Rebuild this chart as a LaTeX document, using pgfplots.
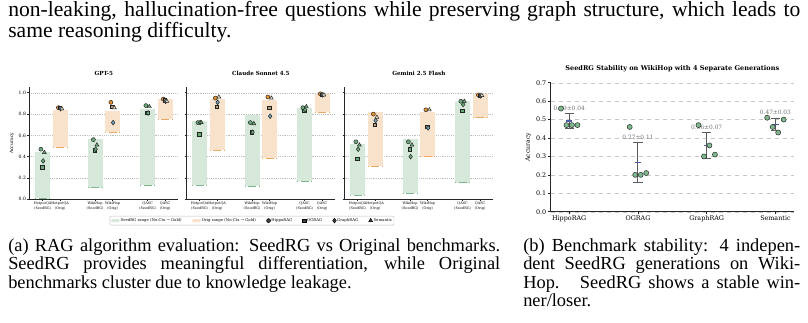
\documentclass[border=0pt]{standalone}
\usepackage{fontspec}
\setmainfont{Liberation Serif}
\newfontfamily\chart{DejaVu Serif}
\usepackage{pgfplots}
\pgfplotsset{compat=1.18}
\usepackage{pgfplotstable}

\definecolor{gfill}{HTML}{D6E8DA}
\definecolor{gline}{HTML}{7FB58A}
\definecolor{ofill}{HTML}{F8E2CB}
\definecolor{oline}{HTML}{E8A860}
\definecolor{seedc}{HTML}{6AAA78}
\definecolor{hipc}{HTML}{E8902A}
\definecolor{ogc}{HTML}{B8A07A}
\definecolor{grc}{HTML}{6F9FB5}
\definecolor{sec}{HTML}{E6D8BE}
\definecolor{mk}{HTML}{222222}
\definecolor{ptc}{HTML}{7DB98C}
\definecolor{ebc}{HTML}{5A5A5A}
\definecolor{meanc}{HTML}{4A5AA8}

% ---------- data (a) ----------
\pgfplotstableread{
x lo hi hip og gr se
0 0.01 0.44 0.47 0.30 0.36 0.44
3 0.11 0.57 0.56 0.46 0.47 0.51
6 0.135 0.85 0.88 0.81 0.81 0.87
}\gptS
\pgfplotstableread{
x lo hi hip og gr se
1 0.49 0.84 0.86 0.86 0.85 0.85
4 0.63 0.83 0.91 0.87 0.72 0.86
7 0.75 0.94 0.94 0.93 0.92 0.92
}\gptO
\pgfplotstableread{
x lo hi hip og gr se
0 0.134 0.734 0.72 0.61 0.72 0.72
3 0.125 0.79 0.72 0.63 0.63 0.71
6 0.17 0.86 0.86 0.83 0.84 0.87
}\claS
\pgfplotstableread{
x lo hi hip og gr se
1 0.46 0.94 0.95 0.87 0.91 0.96
4 0.385 0.93 0.96 0.86 0.78 0.95
7 0.82 0.99 0.99 0.98 0.98 0.98
}\claO
\pgfplotstableread{
x lo hi hip og gr se
0 0.04 0.52 0.54 0.38 0.47 0.51
3 0.056 0.57 0.54 0.47 0.40 0.51
6 0.156 0.925 0.92 0.83 0.89 0.92
}\gemS
\pgfplotstableread{
x lo hi hip og gr se
1 0.31 0.815 0.80 0.70 0.74 0.77
4 0.40 0.815 0.84 0.68 0.67 0.84
7 0.765 0.99 0.98 0.97 0.97 0.975
}\gemO
% ---------- data (b) ----------
\pgfplotstableread{
x v1 v2 v3 v4 mean std lab
0 0.56 0.47 0.47 0.47 0.4925 0.042 0.49±0.04
1 0.46 0.20 0.20 0.21 0.2675 0.108 0.27±0.11
2 0.47 0.30 0.36 0.31 0.36 0.07 0.36±0.07
3 0.51 0.46 0.43 0.50 0.475 0.033 0.47±0.03
}\stab

\newcommand{\ranges}[3]{% table, fill, line
  \addplot[forget plot, draw=none, mark=none, error bars/.cd, y dir=minus, y explicit, error mark=none,
    error bar style={line width=11.25pt, draw=#2, solid}]
    table[x=x, y=hi, y error expr=\thisrow{hi}-\thisrow{lo}] {#1};
  \addplot[forget plot, draw=none, mark=none, error bars/.cd, x dir=both, x fixed=0.43, error mark=none,
    error bar style={densely dashed, line width=0.45pt, draw=#3}]
    table[x=x, y=lo] {#1};
}
\newcommand{\pts}[5]{% table, hip, og, gr, se colours
  \addplot[forget plot, only marks, mark=*, mark size=1.5pt, mark options={fill=#2, draw=mk, line width=0.35pt}]
    table[x expr=\thisrow{x}-0.1, y=hip] {#1};
  \addplot[forget plot, only marks, mark=square*, mark size=1.3pt, mark options={fill=#3, draw=mk, line width=0.35pt}]
    table[x expr=\thisrow{x}-0.03, y=og] {#1};
  \addplot[forget plot, only marks, mark=diamond*, mark size=1.8pt, mark options={fill=#4, draw=mk, line width=0.35pt}]
    table[x expr=\thisrow{x}+0.03, y=gr] {#1};
  \addplot[forget plot, only marks, mark=triangle*, mark size=1.7pt, mark options={fill=#5, draw=mk, line width=0.35pt}]
    table[x expr=\thisrow{x}+0.1, y=se] {#1};
}
\newcommand{\panelall}[2]{%
  \ranges{#1}{gfill}{gline}
  \ranges{#2}{ofill}{oline}
  \pts{#1}{seedc}{seedc}{seedc}{seedc}
  \pts{#2}{hipc}{ogc}{grc}{sec}
}

\pgfplotsset{
  legpatch/.style={legend image code/.code={\fill[##1] (0pt,-1.1pt) rectangle (6.5pt,1.1pt);}},
  legmark/.style={legend image code/.code={\draw[##1] plot coordinates {(1.6pt,0pt)};}},
  panela/.style={
    scale only axis, width=111.56pt, height=83.9pt,
    xmin=-0.75, xmax=7.75, ymin=0, ymax=1.05,
    axis lines=left, axis line style={-, line width=0.5pt, black!85},
    tick align=outside, major tick length=1.5pt, tick style={line width=0.4pt, black!85},
    xtick={0,1,3,4,6,7},
    xticklabels={{HotpotQA\\(SeedRG)},{HotpotQA\\(Orig)},{WikiHop\\(SeedRG)},{WikiHop\\(Orig)},{QASC\\(SeedRG)},{QASC\\(Orig)}},
    xticklabel style={align=center, font=\chart\fontsize{2.6}{3.4}\selectfont, inner sep=0.6pt},
    ytick={0,0.2,...,1.0},
    yticklabel style={font=\chart\fontsize{3.4}{4}\selectfont, inner sep=1pt,
      /pgf/number format/.cd, fixed, fixed zerofill, precision=1, assume math mode=true},
    ymajorgrids, major grid style={densely dotted, black!25, line width=0.3pt},
    title style={font=\chart\bfseries\fontsize{4.2}{5}\selectfont, at={(0.5,1)}, anchor=base, yshift=2.6pt},
    clip=false,
  }
}

\begin{document}
\begin{tikzpicture}
\begin{scope}[x=0.75pt, y=-0.75pt]
\path[use as bounding box] (0,0) rectangle (808,323);
\node[anchor=base west, inner sep=0] at (8,16.5) {\fontsize{16.2}{19}\selectfont\makebox[594pt][s]{non-leaking, hallucination-free questions while preserving graph structure, which leads to}};
\node[anchor=base west, inner sep=0] at (8,38) {\fontsize{16.2}{19}\selectfont same reasoning difficulty.};
\node[anchor=base west, inner sep=0] at (8,251.5) {\fontsize{13.8}{16}\selectfont\makebox[369pt][s]{(a) RAG algorithm evaluation: SeedRG vs Original benchmarks.}};
\node[anchor=base west, inner sep=0] at (8,270) {\fontsize{13.8}{16}\selectfont\makebox[369pt][s]{SeedRG provides meaningful differentiation, while Original}};
\node[anchor=base west, inner sep=0] at (8,288.5) {\fontsize{13.8}{16}\selectfont benchmarks cluster due to knowledge leakage.};
\node[anchor=base west, inner sep=0] at (523,251.5) {\fontsize{13.8}{16}\selectfont\makebox[207.75pt][s]{(b) Benchmark stability: 4 indepen-}};
\node[anchor=base west, inner sep=0] at (523,270) {\fontsize{13.8}{16}\selectfont\makebox[207.75pt][s]{dent SeedRG generations on Wiki-}};
\node[anchor=base west, inner sep=0] at (523,288.5) {\fontsize{13.8}{16}\selectfont\makebox[207.75pt][s]{Hop. \ SeedRG shows a stable win-}};
\node[anchor=base west, inner sep=0] at (523,307) {\fontsize{13.8}{16}\selectfont ner/loser.};
\end{scope}

% ---------- GPT-5 ----------
\begin{axis}[panela, at={(22.125pt,-149.475pt)}, anchor=south west, title={GPT-5},
  ylabel={Accuracy},
  every axis y label/.style={at={(axis description cs:-0.118,0.5)}, rotate=90, anchor=center, font=\chart\fontsize{3.4}{4}\selectfont}]
\panelall{\gptS}{\gptO}
\end{axis}
% ---------- Claude ----------
\begin{axis}[panela, at={(139.875pt,-149.475pt)}, anchor=south west, title={Claude Sonnet 4.5},
  yticklabels={},
  legend style={at={(0.44,-0.149)}, anchor=north, legend columns=6, draw=black!25, line width=0.3pt,
    rounded corners=0.8pt, font=\chart\fontsize{2.9}{3.4}\selectfont, inner sep=0.8pt,
    nodes={inner sep=0.7pt}, /tikz/every even column/.append style={column sep=7.2pt}},
  legend cell align=left]
\panelall{\claS}{\claO}
\addlegendimage{legpatch, fill=gfill, draw=none}
\addlegendentry{SeedRG range (No-Ctx → Gold)}
\addlegendimage{legpatch, fill=ofill, draw=none}
\addlegendentry{Orig range (No-Ctx → Gold)}
\addlegendimage{only marks, mark=*, mark size=1.5pt, mark options={fill=black!75, draw=black, line width=0.35pt}, legmark}
\addlegendentry{HippoRAG}
\addlegendimage{only marks, mark=square*, mark size=1.3pt, mark options={fill=black!75, draw=black, line width=0.35pt}, legmark}
\addlegendentry{OGRAG}
\addlegendimage{only marks, mark=diamond*, mark size=1.8pt, mark options={fill=black!75, draw=black, line width=0.35pt}, legmark}
\addlegendentry{GraphRAG}
\addlegendimage{only marks, mark=triangle*, mark size=1.7pt, mark options={fill=black!75, draw=black, line width=0.35pt}, legmark}
\addlegendentry{Semantic}
\end{axis}
% ---------- Gemini ----------
\begin{axis}[panela, at={(258.375pt,-149.475pt)}, anchor=south west, title={Gemini 2.5 Flash},
  yticklabels={}]
\panelall{\gemS}{\gemO}
\end{axis}

% ---------- (b) ----------
\begin{axis}[scale only axis, width=182.5pt, height=96.75pt, at={(413pt,-158.8pt)}, anchor=south west,
  xmin=-0.27, xmax=3.27, ymin=0, ymax=0.7,
  axis lines=left, axis line style={-, line width=0.6pt, black!85},
  tick align=outside, major tick length=1.9pt, tick style={line width=0.45pt, black!85},
  xtick={0,1,2,3}, xticklabels={HippoRAG,OGRAG,GraphRAG,Semantic},
  xticklabel style={font=\chart\fontsize{4.8}{5.5}\selectfont, inner sep=1.2pt},
  ytick={0,0.1,...,0.7},
  yticklabel style={font=\chart\fontsize{4.8}{5.5}\selectfont, inner sep=1.2pt,
    /pgf/number format/.cd, fixed, fixed zerofill, precision=1, assume math mode=true},
  ymajorgrids, major grid style={dashed, black!22, line width=0.3pt},
  title={SeedRG Stability on WikiHop with 4 Separate Generations},
  title style={font=\chart\bfseries\fontsize{4.9}{5.5}\selectfont, at={(0.5,1)}, anchor=base, yshift=3.3pt},
  ylabel={Accuracy},
  every axis y label/.style={at={(axis description cs:-0.092,0.5)}, rotate=90, anchor=center, font=\chart\fontsize{4.6}{5}\selectfont},
  clip=false]
\addplot[forget plot, draw=none, mark=none, nodes near coords, point meta=explicit symbolic,
  nodes near coords style={font=\chart\fontsize{4.4}{5}\selectfont, text=black!55, anchor=south, inner sep=0.5pt, yshift=1.6pt}]
  table[x=x, y expr=\thisrow{mean}+\thisrow{std}, meta=lab] {\stab};
\addplot[forget plot, draw=none, mark=none, error bars/.cd, y dir=both, y explicit,
  error bar style={line width=0.75pt, draw=ebc, solid},
  error mark options={rotate=90, mark size=3.5pt, line width=0.75pt, draw=ebc}]
  table[x=x, y=mean, y error=std] {\stab};
\addplot[forget plot, only marks, mark=-, mark size=2.4pt, mark options={draw=meanc, line width=0.9pt}]
  table[x=x, y=mean] {\stab};
\addplot[forget plot, only marks, mark=*, mark size=1.9pt, mark options={fill=ptc, draw=black!80, line width=0.4pt}]
  table[x expr=\thisrow{x}-0.12, y=v1] {\stab};
\addplot[forget plot, only marks, mark=*, mark size=1.9pt, mark options={fill=ptc, draw=black!80, line width=0.4pt}]
  table[x expr=\thisrow{x}-0.04, y=v2] {\stab};
\addplot[forget plot, only marks, mark=*, mark size=1.9pt, mark options={fill=ptc, draw=black!80, line width=0.4pt}]
  table[x expr=\thisrow{x}+0.04, y=v3] {\stab};
\addplot[forget plot, only marks, mark=*, mark size=1.9pt, mark options={fill=ptc, draw=black!80, line width=0.4pt}]
  table[x expr=\thisrow{x}+0.12, y=v4] {\stab};
\end{axis}
\end{tikzpicture}
\end{document}
